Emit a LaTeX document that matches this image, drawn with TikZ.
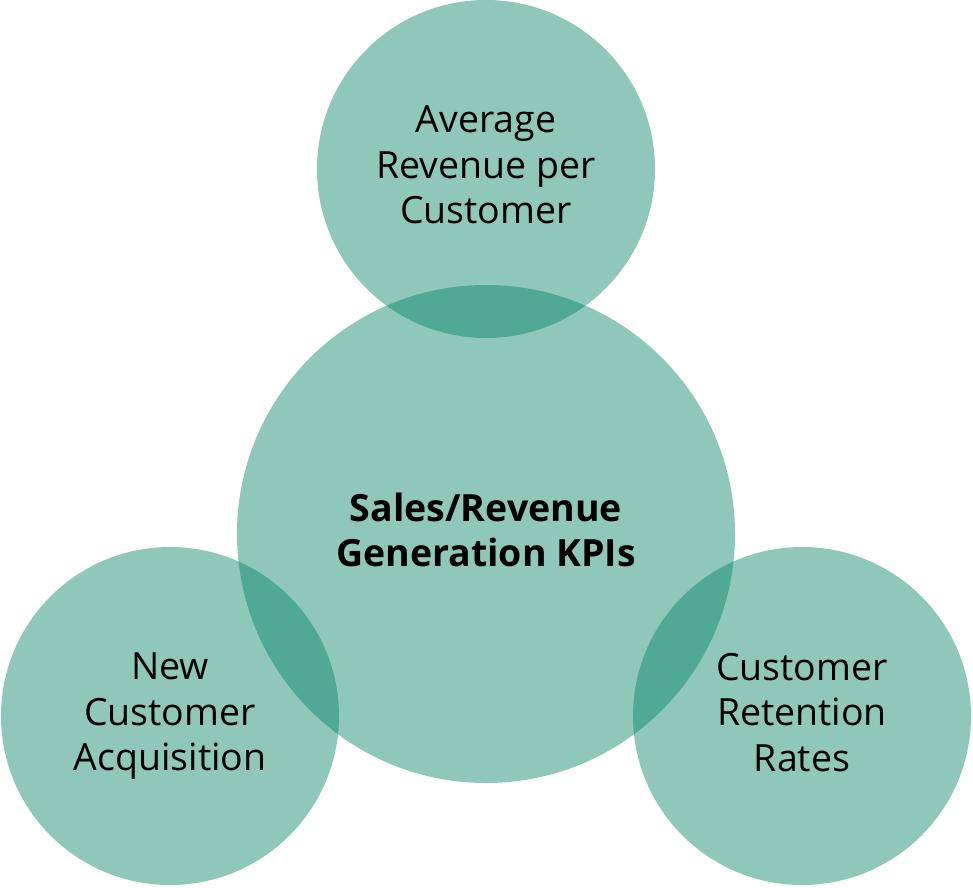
\documentclass[tikz,border=0pt]{standalone}
\usepackage{fontspec}
\setmainfont{Open Sans}
\definecolor{kpigreen}{RGB}{0,130,96}

\begin{document}
\begin{tikzpicture}[x=1pt, y=1pt,
  bubble/.style = {circle, inner sep=0pt, fill=kpigreen, fill opacity=0.44,
                   text opacity=1, align=center, text depth=8pt,
                   font=\fontsize{37.5}{45.5}\selectfont},
  small/.style  = {bubble, minimum size=338pt},
  big/.style    = {bubble, minimum size=498pt, font=\fontsize{37.5}{45.5}\selectfont\bfseries}]

\useasboundingbox (0,0) rectangle (973,887);

\node[big]   (kpi)  at (486,353) {Sales/Revenue\\Generation KPIs};
\node[small] (arpc) at (486,718) {Average\\Revenue per\\Customer};
\node[small] (nca)  at (170,171) {New\\Customer\\Acquisition};
\node[small] (crr)  at (802,171) {Customer\\Retention\\Rates};
\end{tikzpicture}
\end{document}
